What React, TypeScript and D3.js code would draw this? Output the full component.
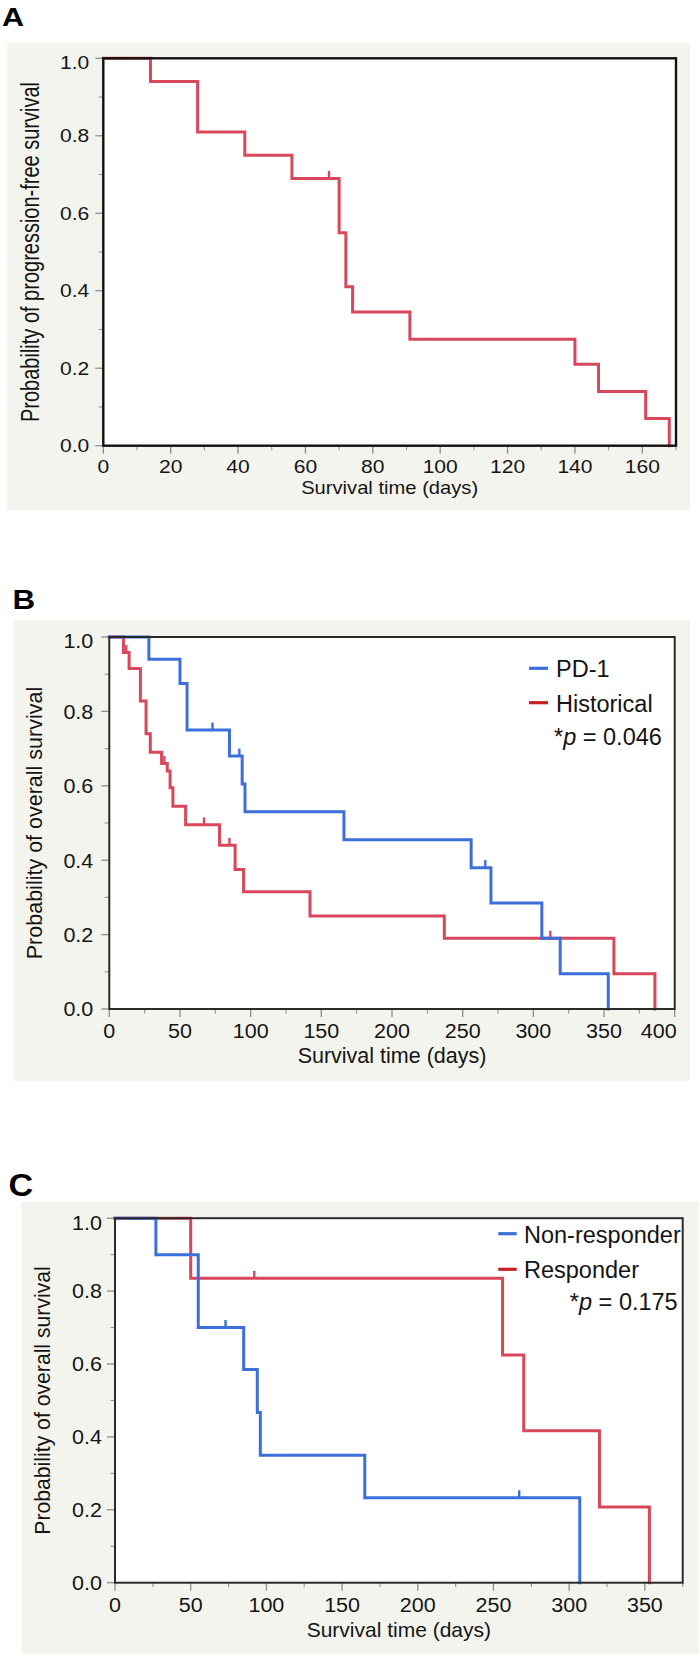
import React from 'react';
import * as d3 from 'd3';

// ---------- Panel A: progression-free survival ----------
const pfsTimes = [0, 14, 28, 42, 56, 70, 72, 74, 91, 140, 147, 161, 168];
const pfsSurv = [1.0, 0.94, 0.81, 0.75, 0.69, 0.55, 0.41, 0.345, 0.275, 0.21, 0.14, 0.07, 0.0];
const pfsCensor = [67];

// ---------- Panel B: PD-1 vs Historical ----------
const pd1Times = [0, 28, 50, 55, 85, 94, 96, 166, 256, 270, 306, 319, 353];
const pd1Surv = [1.0, 0.94, 0.875, 0.75, 0.68, 0.605, 0.53, 0.455, 0.38, 0.285, 0.19, 0.095, 0.0];
const pd1Censor = [73, 92, 266];
const histTimes = [0, 10, 14, 22, 26, 29, 37, 41, 43, 45, 54, 78, 89, 95, 142, 237, 357, 386];
const histSurv = [1.0, 0.958, 0.915, 0.828, 0.74, 0.69, 0.66, 0.64, 0.595, 0.545, 0.495, 0.44, 0.375, 0.315, 0.25, 0.19, 0.095, 0.0];
const histCensor = [12, 39, 67, 85, 312];

// ---------- Panel C: Non-responder vs Responder ----------
const nonRespTimes = [0, 27, 55, 85, 94, 96, 165, 307];
const nonRespSurv = [1.0, 0.9, 0.7, 0.585, 0.467, 0.35, 0.233, 0.0];
const nonRespCensor = [73, 267];
const respTimes = [0, 50, 256, 270, 320, 353];
const respSurv = [1.0, 0.835, 0.625, 0.417, 0.208, 0.0];
const respCensor = [92];

// ---------- Ticks ----------
const yMajor = [0, 0.2, 0.4, 0.6, 0.8, 1.0];
const yMinor = [0.1, 0.3, 0.5, 0.7, 0.9];
const xMajorA = [0, 20, 40, 60, 80, 100, 120, 140, 160];
const xMinorA = [10, 30, 50, 70, 90, 110, 130, 150, 170];
const xMajorB = [0, 50, 100, 150, 200, 250, 300, 350, 400];
const xMinorB = [25, 75, 125, 175, 225, 275, 325, 375];
const xMajorC = [0, 50, 100, 150, 200, 250, 300, 350];
const xMinorC = [25, 75, 125, 175, 225, 275, 325, 375];

const panelLabels = ['A', 'B', 'C'];
const xTitle = 'Survival time (days)';
const yTitleA = 'Probability of progression-free survival';
const yTitleBC = 'Probability of overall survival';
const legendB = ['PD-1', 'Historical'];
const legendC = ['Non-responder', 'Responder'];
const pB = '0.046';
const pC = '0.175';

const FONT = "'Liberation Sans', Arial, Helvetica, sans-serif";
const BLUE = '#3d6fdb';
const RED = '#d8475a';
const LEG_RED = '#c71f24';
const BG = '#f4f4ef';
const TEXT = '#141414';

type Series = { times: number[]; surv: number[]; censor: number[]; color: string };

type Cfg = {
  label: string;
  labelX: number; labelY: number; labelSize: number; labelSx: number;
  bg: [number, number, number, number];
  left: number; right: number; top: number; bottom: number;
  xMax: number; xMajor: number[]; xMinor: number[];
  tickFont: number; tickSx: number; yLabelGap: number; xLabelBase: number;
  xTitleFont: number; xTitleSx: number; xTitleBase: number;
  yTitle: string; yTitleFont: number; yTitleSx: number; yTitleBase: number;
  frameW: number; frameC: string;
  series: Series[];
};

function survAt(times: number[], surv: number[], t: number) {
  let s = surv[0];
  for (let i = 0; i < times.length; i++) if (times[i] <= t) s = surv[i];
  return s;
}

function Panel({ c }: { c: Cfg }) {
  const x = d3.scaleLinear().domain([0, c.xMax]).range([c.left, c.right]);
  const y = d3.scaleLinear().domain([0, 1]).range([c.bottom, c.top]);
  const line = d3.line<[number, number]>().x(d => x(d[0])).y(d => y(d[1])).curve(d3.curveStepAfter);
  const cap = 0.358 * c.tickFont;
  return (
    <g>
      <rect x={c.bg[0]} y={c.bg[1]} width={c.bg[2] - c.bg[0]} height={c.bg[3] - c.bg[1]} fill={BG} />
      <text transform={`translate(${c.labelX},${c.labelY}) scale(${c.labelSx},1)`} fontFamily={FONT}
        fontWeight="bold" fontSize={c.labelSize} fill="#000">{c.label}</text>
      <rect x={c.left} y={c.top} width={c.right - c.left} height={c.bottom - c.top} fill="#fff" />
      {/* y ticks */}
      {yMajor.map(v => (
        <line key={'ym' + v} x1={c.left - 8} x2={c.left} y1={y(v)} y2={y(v)} stroke="#8c8c8c" strokeWidth={1.3} />
      ))}
      {yMinor.map(v => (
        <line key={'yn' + v} x1={c.left - 4.5} x2={c.left} y1={y(v)} y2={y(v)} stroke="#9a9a9a" strokeWidth={1.2} />
      ))}
      {yMajor.map(v => (
        <text key={'yl' + v} transform={`translate(${c.left - c.yLabelGap},${y(v) + cap + (v === 1 ? 4 : 0)}) scale(${c.tickSx},1)`}
          textAnchor="end" fontFamily={FONT} fontSize={c.tickFont} fill={TEXT}>{v.toFixed(1)}</text>
      ))}
      {/* x ticks */}
      {c.xMajor.map(v => (
        <line key={'xm' + v} x1={x(v)} x2={x(v)} y1={c.bottom} y2={c.bottom + 8} stroke="#8c8c8c" strokeWidth={1.3} />
      ))}
      {c.xMinor.map(v => (
        <line key={'xn' + v} x1={x(v)} x2={x(v)} y1={c.bottom} y2={c.bottom + 4.5} stroke="#9a9a9a" strokeWidth={1.2} />
      ))}
      {c.xMajor.map(v => {
        const atEnd = v === c.xMax;
        return (
          <text key={'xl' + v} transform={`translate(${x(v) + (atEnd ? 2 : 0)},${c.xLabelBase}) scale(${c.tickSx},1)`}
            textAnchor={atEnd ? 'end' : 'middle'} fontFamily={FONT} fontSize={c.tickFont} fill={TEXT}>{v}</text>
        );
      })}
      {/* titles */}
      <text transform={`translate(${(c.left + c.right) / 2},${c.xTitleBase}) scale(${c.xTitleSx},1)`}
        textAnchor="middle" fontFamily={FONT} fontSize={c.xTitleFont} fill={TEXT}>{xTitle}</text>
      <text transform={`translate(${c.yTitleBase},${(c.top + c.bottom) / 2}) scale(${c.yTitleSx},1) rotate(-90)`}
        textAnchor="middle" fontFamily={FONT} fontSize={c.yTitleFont} fill={TEXT}>{c.yTitle}</text>
      {/* curves */}
      {c.series.map((s, i) => (
        <g key={'s' + i}>
          <path d={line(s.times.map((t, j) => [t, s.surv[j]] as [number, number])) || ''} fill="none"
            stroke={s.color} strokeWidth={3} strokeLinejoin="miter" strokeLinecap="square" />
          {s.censor.map(t => {
            const yy = y(survAt(s.times, s.surv, t));
            return <line key={'c' + t} x1={x(t)} x2={x(t)} y1={yy} y2={yy - 7.5} stroke={s.color} strokeWidth={2.4} />;
          })}
        </g>
      ))}
      {/* frame */}
      <rect x={c.left} y={c.top} width={c.right - c.left} height={c.bottom - c.top} fill="none"
        stroke={c.frameC} strokeWidth={c.frameW} />
    </g>
  );
}

function Legend({ x0, lineX1, lineX2, ys, names, colors, pText, pX, pY, pAnchor }: any) {
  return (
    <g fontFamily={FONT} fontSize={23.5} fill={TEXT}>
      {names.map((n: string, i: number) => (
        <g key={n}>
          <line x1={lineX1} x2={lineX2} y1={ys[i] - 9} y2={ys[i] - 9} stroke={colors[i]} strokeWidth={3.2} />
          <text x={x0} y={ys[i]}>{n}</text>
        </g>
      ))}
      <text x={pX} y={pY} textAnchor={pAnchor}>
        <tspan>*</tspan><tspan fontStyle="italic">p</tspan><tspan> = {pText}</tspan>
      </text>
    </g>
  );
}

const cfgA: Cfg = {
  label: panelLabels[0], labelX: 2, labelY: 26, labelSize: 25, labelSx: 1.22,
  bg: [7.3, 42.7, 690, 510.5],
  left: 103.3, right: 676, top: 58.3, bottom: 445.7,
  xMax: 170, xMajor: xMajorA, xMinor: xMinorA,
  tickFont: 18, tickSx: 1.17, yLabelGap: 14, xLabelBase: 472.5,
  xTitleFont: 18, xTitleSx: 1.12, xTitleBase: 493.5,
  yTitle: yTitleA, yTitleFont: 20, yTitleSx: 1.3, yTitleBase: 39.3,
  frameW: 2.4, frameC: '#111',
  series: [{ times: pfsTimes, surv: pfsSurv, censor: pfsCensor, color: RED }],
};

const cfgB: Cfg = {
  label: panelLabels[1], labelX: 12.5, labelY: 609.3, labelSize: 28, labelSx: 1.12,
  bg: [13.3, 620, 690, 1081],
  left: 109.3, right: 674.7, top: 637, bottom: 1009,
  xMax: 400, xMajor: xMajorB, xMinor: xMinorB,
  tickFont: 20.5, tickSx: 1.05, yLabelGap: 16, xLabelBase: 1037.5,
  xTitleFont: 21.5, xTitleSx: 1.0, xTitleBase: 1062.5,
  yTitle: yTitleBC, yTitleFont: 21.5, yTitleSx: 1.0, yTitleBase: 42.4,
  frameW: 2, frameC: '#2a2a2a',
  series: [
    { times: histTimes, surv: histSurv, censor: histCensor, color: RED },
    { times: pd1Times, surv: pd1Surv, censor: pd1Censor, color: BLUE },
  ],
};

const cfgC: Cfg = {
  label: panelLabels[2], labelX: 8.5, labelY: 1196, labelSize: 31, labelSx: 1.1,
  bg: [21.5, 1201.5, 699, 1653.5],
  left: 115, right: 682.7, top: 1218.2, bottom: 1582.7,
  xMax: 375, xMajor: xMajorC, xMinor: xMinorC,
  tickFont: 20.5, tickSx: 1.05, yLabelGap: 13, xLabelBase: 1611.5,
  xTitleFont: 21, xTitleSx: 1.0, xTitleBase: 1636.5,
  yTitle: yTitleBC, yTitleFont: 21.2, yTitleSx: 1.0, yTitleBase: 50.2,
  frameW: 2, frameC: '#2a2a2a',
  series: [
    { times: respTimes, surv: respSurv, censor: respCensor, color: RED },
    { times: nonRespTimes, surv: nonRespSurv, censor: nonRespCensor, color: BLUE },
  ],
};

export default function App() {
  return (
    <svg width={700} height={1657} viewBox="0 0 700 1657"
      style={{ position: 'absolute', left: 0, top: 0, background: '#fff' }}>
      <rect x={0} y={0} width={700} height={1657} fill="#fff" />
      <Panel c={cfgA} />
      <Panel c={cfgB} />
      <Legend x0={556} lineX1={529} lineX2={548} ys={[677.3, 711.7]} names={legendB} colors={[BLUE, LEG_RED]}
        pText={pB} pX={554} pY={745} pAnchor="start" />
      <Panel c={cfgC} />
      <Legend x0={524} lineX1={498.3} lineX2={516.7} ys={[1242.7, 1278.3]} names={legendC} colors={[BLUE, LEG_RED]}
        pText={pC} pX={677.7} pY={1310} pAnchor="end" />
    </svg>
  );
}
